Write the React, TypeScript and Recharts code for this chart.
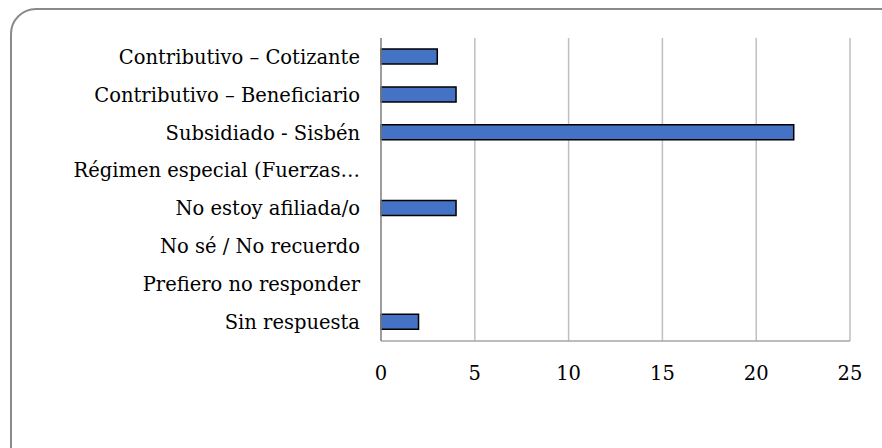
import { Bar, BarChart, CartesianGrid, XAxis, YAxis } from 'recharts';

const CATEGORIES = [
  'Contributivo – Cotizante',
  'Contributivo – Beneficiario',
  'Subsidiado - Sisbén',
  'Régimen especial (Fuerzas…',
  'No estoy afiliada/o',
  'No sé / No recuerdo',
  'Prefiero no responder',
  'Sin respuesta',
];

const COUNTS = [3, 4, 22, 0, 4, 0, 0, 2];

const X_TICKS = [0, 5, 10, 15, 20, 25];

const FONT = '"DejaVu Serif", serif';

export default function App() {
  const data = CATEGORIES.map((name, i) => ({ name, value: COUNTS[i] }));
  return (
    <div
      style={{
        position: 'absolute',
        left: 0,
        top: 0,
        width: 882,
        height: 448,
        overflow: 'hidden',
        background: '#fff',
      }}
    >
      <div
        style={{
          position: 'absolute',
          left: 10,
          top: 8,
          width: 900,
          height: 470,
          border: '2px solid #8a8a8a',
          borderRadius: 26,
          boxSizing: 'border-box',
        }}
      />
      <div style={{ position: 'absolute', left: 0, top: 0 }}>
        <BarChart
          width={882}
          height={448}
          data={data}
          layout="vertical"
          margin={{ top: 38, right: 32, bottom: 77, left: 0 }}
          barCategoryGap={0}
        >
          <CartesianGrid horizontal={false} stroke="#bfbfbf" strokeWidth={1.5} />
          <XAxis
            type="number"
            domain={[0, 25]}
            ticks={X_TICKS}
            interval={0}
            height={30}
            tickLine={false}
            tickMargin={19}
            axisLine={{ stroke: '#a6a6a6', strokeWidth: 1.5 }}
            tick={{ fill: '#000', fontSize: 19.5, fontFamily: FONT }}
          />
          <YAxis
            type="category"
            dataKey="name"
            width={381}
            interval={0}
            tickLine={false}
            tickMargin={15}
            axisLine={{ stroke: '#8c8c8c', strokeWidth: 1.5 }}
            tick={{ fill: '#000', fontSize: 19.5, fontFamily: FONT }}
          />
          <Bar
            dataKey="value"
            fill="#4472C4"
            stroke="#000"
            strokeWidth={1.5}
            barSize={15}
            isAnimationActive={false}
          />
        </BarChart>
      </div>
    </div>
  );
}
